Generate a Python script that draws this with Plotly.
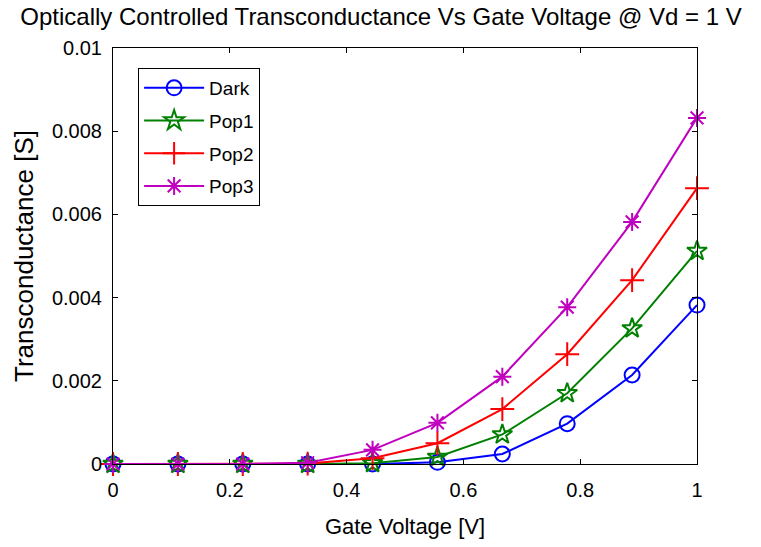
import plotly.graph_objects as go

vg = [0, 1/9, 2/9, 3/9, 4/9, 5/9, 6/9, 7/9, 8/9, 1.0]
dark = [0, 0, 0, 0, 0.0, 0.00004, 0.00024, 0.00097, 0.00214, 0.00382]
pop1 = [0, 0, 0, 0, 0.00002, 0.00017, 0.00071, 0.00170, 0.00326, 0.00512]
pop2 = [0, 0, 0, 0.00001, 0.00014, 0.00050, 0.00132, 0.00264, 0.00442, 0.00663]
pop3 = [0, 0, 0, 0.00003, 0.00034, 0.00099, 0.00210, 0.00377, 0.00582, 0.00832]

names = ["Dark", "Pop1", "Pop2", "Pop3"]
series = [dark, pop1, pop2, pop3]
colors = ["#0000ff", "#008000", "#ff0000", "#bf00bf"]
symbols = ["circle-open", "star-open", "cross-thin-open", "asterisk-open"]
msizes = [15, 15, 17, 15]

xticks = [0, 0.2, 0.4, 0.6, 0.8, 1.0]
xticklabels = ["0", "0.2", "0.4", "0.6", "0.8", "1"]
yticks = [0, 0.002, 0.004, 0.006, 0.008, 0.01]
yticklabels = ["0", "0.002", "0.004", "0.006", "0.008", "0.01"]

FONT = "Liberation Sans, Arial, sans-serif"

fig = go.Figure()
for n, s, c, sym, ms in zip(names, series, colors, symbols, msizes):
    fig.add_trace(go.Scatter(
        x=vg, y=s, name=n, mode="lines+markers", legendgroup=n,
        line=dict(color=c, width=2),
        marker=dict(symbol=sym, size=ms, color=c, line=dict(color=c, width=2)),
        cliponaxis=False,
    ))

axis_common = dict(
    showline=True, linecolor="black", linewidth=1, mirror="allticks",
    ticks="inside", ticklen=5, tickcolor="black", showgrid=False, zeroline=False,
    tickfont=dict(family=FONT, size=20, color="black"),
)

fig.update_layout(
    width=761, height=547,
    margin=dict(l=113, r=64, t=48, b=83),
    paper_bgcolor="white", plot_bgcolor="white",
    title=dict(text="Optically Controlled Transconductance Vs Gate Voltage @ Vd = 1 V",
               x=(381 - 113) / 584, xref="paper", y=1 - 17/547, yanchor="middle", xanchor="center",
               font=dict(family=FONT, size=24, color="black")),
    xaxis=dict(range=[0, 1], tickvals=xticks, ticktext=xticklabels, ticklabelstandoff=8,
               title=dict(text="Gate Voltage [V]", font=dict(family=FONT, size=22, color="black"), standoff=18),
               **axis_common),
    yaxis=dict(range=[0, 0.01], tickvals=yticks, ticktext=yticklabels, ticklabelstandoff=6,
               title=dict(text="Transconductance [S]", font=dict(family=FONT, size=26, color="black"), standoff=10),
               **axis_common),
    legend=dict(x=0.043, y=0.952, xanchor="left", yanchor="top",
                bordercolor="black", borderwidth=1, bgcolor="white",
                font=dict(family=FONT, size=19, color="black"),
                tracegroupgap=5, itemwidth=60, entrywidth=70, entrywidthmode="pixels"),
    showlegend=True,
)

fig.write_html("out.html")
